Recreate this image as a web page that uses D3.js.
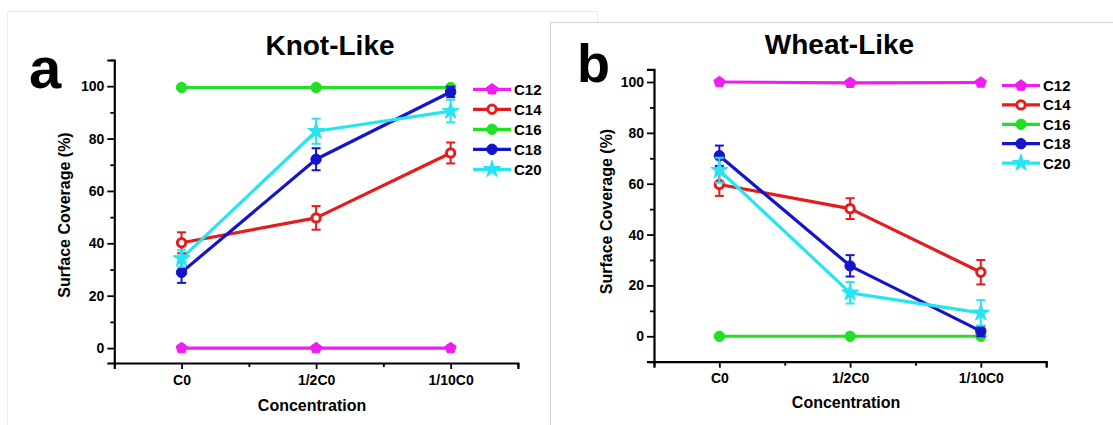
<!DOCTYPE html>
<html>
<head>
<meta charset="utf-8">
<script src="https://cdn.jsdelivr.net/npm/d3@7"></script>
<style>
  html, body { margin: 0; padding: 0; background: #fff; }
  svg text { font-family: "Liberation Sans", Arial, sans-serif; font-weight: bold; fill: #000; }
</style>
</head>
<body>
<svg id="chart" width="1113" height="425"></svg>
<script>
// ---------- data ----------
const categories = ["C0", "1/2C0", "1/10C0"];
const seriesNames = ["C12", "C14", "C16", "C18", "C20"];
const seriesColors = ["#f01cf0", "#e41c1c", "#22e022", "#1414cc", "#26e4f0"];

// Panel a : Knot-Like
const knotC12 = [0, 0, 0];
const knotC14 = [40.2, 49.7, 74.5];
const knotC16 = [99.5, 99.5, 99.5];
const knotC18 = [28.9, 72.1, 97.8];
const knotC20 = [34.2, 82.8, 90.5];
const knotErrC12 = [0, 0, 0];
const knotErrC14 = [4.0, 4.5, 4.0];
const knotErrC16 = [0, 0, 0];
const knotErrC18 = [4.0, 4.2, 2.0];
const knotErrC20 = [3.2, 4.8, 4.3];

// Panel b : Wheat-Like
const wheatC12 = [100, 99.7, 99.8];
const wheatC14 = [59.7, 50.2, 25.2];
const wheatC16 = [0, 0, 0];
const wheatC18 = [71.0, 27.7, 2.0];
const wheatC20 = [65.3, 17.1, 9.2];
const wheatErrC12 = [0, 0, 0];
const wheatErrC14 = [4.5, 4.1, 4.8];
const wheatErrC16 = [0, 0, 0];
const wheatErrC18 = [4.0, 4.2, 2.0];
const wheatErrC20 = [4.9, 4.2, 5.0];

const yTicksMajor = [0, 20, 40, 60, 80, 100];
const xTickLabels = categories;

// ---------- helpers ----------
const svg = d3.select("#chart");
const FONT = '"Liberation Sans", Arial, sans-serif';

const symbolPentagon = {
  draw(ctx, size) {
    const r = Math.sqrt(size / 2.378);
    for (let i = 0; i < 5; i++) {
      const a = -Math.PI / 2 + i * 2 * Math.PI / 5;
      const x = r * Math.cos(a), y = r * Math.sin(a);
      if (i === 0) ctx.moveTo(x, y); else ctx.lineTo(x, y);
    }
    ctx.closePath();
  }
};
const markerDefs = [
  { type: symbolPentagon, size: 80, fill: true },
  { type: d3.symbolCircle, size: 55, fill: false },
  { type: d3.symbolCircle, size: 85, fill: true },
  { type: d3.symbolCircle, size: 85, fill: true },
  { type: d3.symbolStar, size: 90, fill: true }
];

function drawMarker(g, i, x, y) {
  const m = markerDefs[i];
  g.append("path")
    .attr("d", d3.symbol().type(m.type).size(m.size)())
    .attr("transform", `translate(${x},${y})`)
    .attr("fill", m.fill ? seriesColors[i] : "#fff")
    .attr("stroke", seriesColors[i])
    .attr("stroke-width", m.fill ? 1 : 3);
}

// ---------- panel frames ----------
svg.append("rect").attr("x", 7.5).attr("y", 11.5).attr("width", 590).attr("height", 440)
  .attr("fill", "#fff").attr("stroke", "#ececec").attr("stroke-width", 1);
svg.append("rect").attr("x", 550.5).attr("y", 22.5).attr("width", 600).attr("height", 440)
  .attr("fill", "#fff").attr("stroke", "#d0d0d0").attr("stroke-width", 1);

function drawPanel(cfg) {
  const g = svg.append("g");
  const x = d3.scaleLinear().domain([0.5, 3.5]).range(cfg.xRange);
  const y = d3.scaleLinear().domain(cfg.yDomain).range(cfg.yRange);

  // y axis
  const yAxis = d3.axisLeft(y).tickValues(yTicksMajor).tickSize(7).tickPadding(3)
    .tickFormat(d3.format("d"));
  g.append("g").attr("transform", `translate(${cfg.xRange[0]},0)`).call(yAxis);
  const yMinor = d3.range(-10, 111, 10).filter(v => v % 20 !== 0 && v >= cfg.yDomain[0] && v <= cfg.yDomain[1]);
  g.append("g").attr("transform", `translate(${cfg.xRange[0]},0)`)
    .call(d3.axisLeft(y).tickValues(yMinor).tickSize(4).tickFormat(""))
    .call(s => s.select(".domain").remove());

  // x axis
  const xAxis = d3.axisBottom(x).tickValues([1, 2, 3]).tickSize(6).tickPadding(cfg.xPad)
    .tickFormat((d) => xTickLabels[d - 1]);
  g.append("g").attr("transform", `translate(0,${cfg.yRange[0]})`).call(xAxis);
  g.append("g").attr("transform", `translate(0,${cfg.yRange[0]})`)
    .call(d3.axisBottom(x).tickValues([0.5, 1.5, 2.5, 3.5]).tickSize(4).tickFormat(""))
    .call(s => s.select(".domain").remove());

  g.selectAll(".domain").attr("stroke", "#000").attr("stroke-width", 2.2);
  g.selectAll(".tick line").attr("stroke", "#000").attr("stroke-width", 1.8);
  g.selectAll(".tick text").attr("font-family", FONT).attr("font-weight", "bold")
    .attr("font-size", 14).attr("fill", "#000");

  // series
  const line = d3.line().x((d, i) => x(i + 1)).y(d => y(d));
  cfg.series.forEach((vals, si) => {
    const col = seriesColors[si];
    g.append("path").datum(vals).attr("d", line)
      .attr("fill", "none").attr("stroke", col).attr("stroke-width", 3.2)
      .attr("stroke-linejoin", "round");
  });
  cfg.series.forEach((vals, si) => {
    const col = seriesColors[si];
    const errs = cfg.errors[si];
    vals.forEach((v, i) => {
      const e = errs[i];
      if (e > 0) {
        const cx = x(i + 1), y1 = y(v - e), y2 = y(v + e);
        g.append("line").attr("x1", cx).attr("x2", cx).attr("y1", y1).attr("y2", y2)
          .attr("stroke", col).attr("stroke-width", 2);
        [y1, y2].forEach(yy => g.append("line").attr("x1", cx - 4.5).attr("x2", cx + 4.5)
          .attr("y1", yy).attr("y2", yy).attr("stroke", col).attr("stroke-width", 2));
      }
      drawMarker(g, si, x(i + 1), y(v));
    });
  });

  // legend
  seriesNames.forEach((name, si) => {
    const ly = cfg.legendY + si * cfg.legendStep;
    g.append("line").attr("x1", cfg.legendX[0]).attr("x2", cfg.legendX[1])
      .attr("y1", ly).attr("y2", ly).attr("stroke", seriesColors[si]).attr("stroke-width", 3.2);
    drawMarker(g, si, (cfg.legendX[0] + cfg.legendX[1]) / 2, ly);
    g.append("text").attr("x", cfg.legendX[1] + 3).attr("y", ly + 5.5)
      .attr("font-size", 15).text(name);
  });

  // titles
  g.append("text").attr("x", cfg.titleX).attr("y", cfg.titleY).attr("text-anchor", "middle")
    .attr("font-size", 28).text(cfg.title);
  g.append("text").attr("x", cfg.letterX).attr("y", cfg.letterY)
    .attr("font-size", cfg.letterSize).text(cfg.letter);
  g.append("text").attr("x", (cfg.xRange[0] + cfg.xRange[1]) / 2 - 4).attr("y", cfg.xLabelY)
    .attr("text-anchor", "middle").attr("font-size", 16).text("Concentration");
  g.append("text").attr("transform", `translate(${cfg.yLabelX},${cfg.yLabelCY}) rotate(-90)`)
    .attr("text-anchor", "middle").attr("font-size", 16).text("Surface Coverage (%)");
}

drawPanel({
  xRange: [114.3, 517.9], yDomain: [-5.7, 110], yRange: [363, 60], xPad: 6,
  series: [knotC12, knotC14, knotC16, knotC18, knotC20],
  errors: [knotErrC12, knotErrC14, knotErrC16, knotErrC18, knotErrC20],
  legendX: [473, 511], legendY: 89.3, legendStep: 20,
  title: "Knot-Like", titleX: 330, titleY: 55,
  letter: "a", letterX: 29, letterY: 88, letterSize: 58,
  xLabelY: 410.5, yLabelX: 70, yLabelCY: 215
});
drawPanel({
  xRange: [654, 1046.2], yDomain: [-10, 105], yRange: [361.7, 69.3], xPad: 5.5,
  series: [wheatC12, wheatC14, wheatC16, wheatC18, wheatC20],
  errors: [wheatErrC12, wheatErrC14, wheatErrC16, wheatErrC18, wheatErrC20],
  legendX: [1002, 1040], legendY: 85.5, legendStep: 19.4,
  title: "Wheat-Like", titleX: 839.5, titleY: 54,
  letter: "b", letterX: 577, letterY: 81.5, letterSize: 54,
  xLabelY: 407.5, yLabelX: 611.5, yLabelCY: 211.5
});
</script>
</body>
</html>
